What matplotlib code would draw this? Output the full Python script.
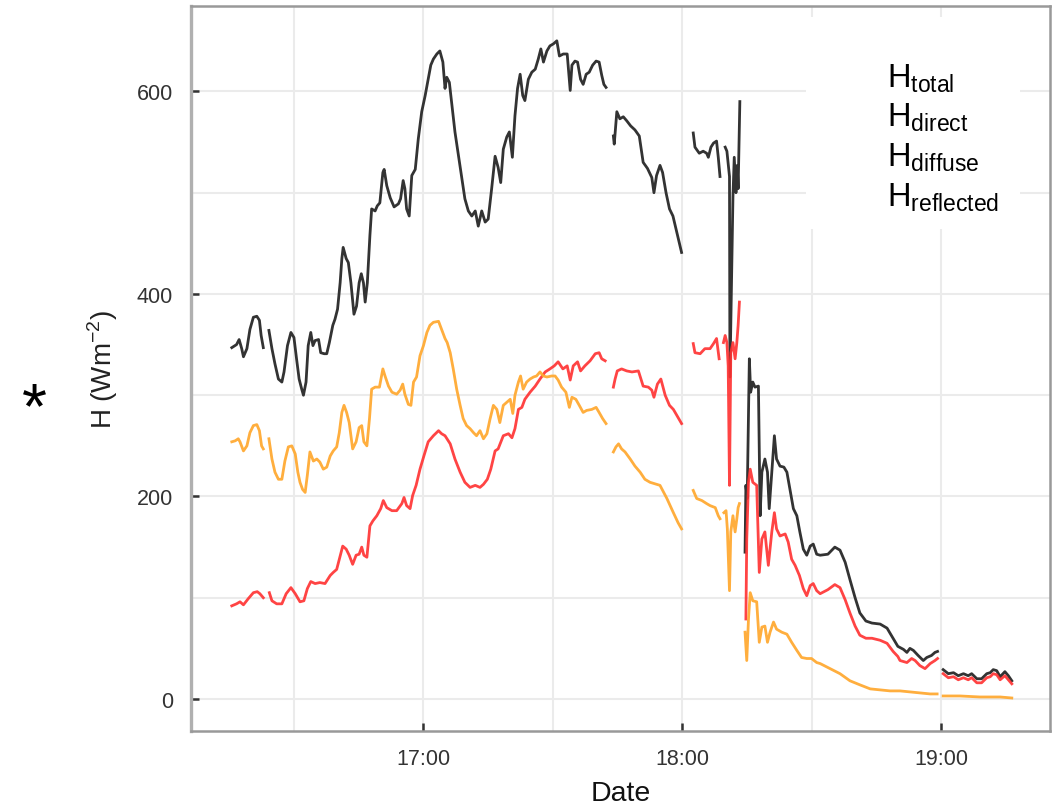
import numpy as np
import matplotlib
matplotlib.use('Agg')
import matplotlib.pyplot as plt
from matplotlib.patches import Rectangle
from matplotlib.ticker import FixedLocator, FixedFormatter

plt.rcParams['font.family'] = ['Liberation Sans', 'DejaVu Sans']
plt.rcParams['mathtext.fontset'] = 'custom'
plt.rcParams['mathtext.rm'] = 'Liberation Sans'

nan = np.nan

# time in minutes after 16:00, irradiance in W m^-2 (nan = data gap)
total_t = [15.7, 16.8, 17.4, 18.0, 18.4, 19.2, 19.9, 20.7, 21.5, 22.1, 22.5, 23.0, nan,
           24.3, 25.0, 25.7, 26.5, 27.3, 27.8, 28.6, 29.4, 30.1, 30.7, 31.3, 31.9, 32.3, 32.9, 33.4, 34.0, 34.5, 35.0,
           35.8, 36.3, 37.1, 37.7, 38.3, 39.1, 39.6, 40.2, 40.8, 41.2, 41.5, 42.2, 42.7, 43.3, 44.0, 44.6, 45.2, 45.7,
           46.2, 46.6, 47.1, 47.7, 48.1, 48.9, 49.4, 50.0, 50.7, 51.0, 51.6, 52.4, 53.3, 54.3, 54.8, 55.4, 55.8, 56.2,
           56.8, 57.4, 58.2, 58.9, 59.7, 60.5, 61.2, 61.8, 62.4, 63.2, 63.9, 64.6, 65.1, 65.5, 66.1, 66.7, 67.4, 68.2,
           69.0, 69.7, 70.5, 71.3, 72.1, 72.8, 73.6, 74.4, 75.1, 75.9, 76.7, 77.4, 78.0, 78.6, 79.4, 80.0, 80.7, 81.3,
           81.9, 82.5, 83.1, 83.6, 84.4, 85.2, 86.0, 86.7, 87.3, 87.9, 88.7, 89.4, 90.2, 91.0, 91.6, 92.5, 93.4, 94.1,
           94.5, 95.2, 95.8, 96.5, 97.1, 97.8, 98.5, 99.3, 100.1, 100.8, 101.4, 101.9, 102.4, nan,
           104.1, 104.3, 104.9, 105.6, 106.4, 107.2, 108.1, 109.1, 110.1, 111.0, 112.0, 113.0, 113.5, 114.1, 114.9,
           115.5, 116.3, 117.1, 117.9, 118.8, 119.9, nan,
           122.6, 123.0, 124.0, 124.9, 125.7, 126.1, 126.7, 127.3, 128.0, 128.4, 128.8, nan,
           130.0, 130.4, 131.0, 131.1, 131.8, 132.1, 132.5, 132.8, 133.0, 133.3, 133.4, nan,
           134.6, 134.8, 135.1, 135.6, 135.9, 136.4, 136.9, 137.7, 138.1, 138.5, 139.2, 139.8, 140.2, 140.8, 141.4,
           141.9, 142.7, 143.6, 144.3, 145.0, 145.8, 146.6, 147.3, 148.1, 148.9, 149.7, 150.4, 151.2, 152.0, 153.8,
           155.4, 156.6, 157.8, 158.9, 160.1, 161.2, 162.6, 164.0, 165.9, 167.5, 168.9, 170.0, 171.3, 172.1, 172.8,
           173.6, 174.7, 175.9, 176.7, 177.8, 178.6, 179.2, nan,
           180.5, 181.7, 182.9, 184.0, 185.2, 186.3, 187.1, 188.3, 189.4, 190.6, 191.4, 192.1, 192.9, 193.7, 194.8,
           195.6, 196.4]
total_h = [347, 350, 355, 346, 338, 346, 365, 377, 378, 374, 359, 347, nan,
           364, 346, 331, 316, 313, 323, 349, 362, 357, 336, 316, 306, 300, 313, 349, 362, 349, 354, 355, 342,
           341, 341, 352, 369, 375, 385, 411, 435, 446, 435, 431, 411, 380, 388, 411, 420, 411, 392, 411, 458,
           484, 482, 487, 490, 520, 523, 507, 495, 486, 489, 494, 512, 504, 484, 477, 517, 523, 553, 580, 596,
           612, 626, 632, 637, 640, 629, 603, 614, 609, 586, 560, 537, 514, 494, 482, 477, 482, 467, 482, 471,
           474, 504, 536, 525, 510, 543, 555, 560, 535, 576, 603, 617, 596, 591, 612, 619, 622, 632, 642, 629,
           640, 645, 647, 650, 635, 637, 637, 601, 626, 630, 629, 612, 607, 617, 619, 626, 630, 629, 616, 607,
           604, nan,
           556, 548, 580, 573, 575, 571, 566, 562, 556, 530, 524, 515, 500, 517, 527, 520, 500, 484, 477, 461, 441, nan,
           559, 545, 539, 541, 539, 535, 545, 549, 551, 535, 516, nan,
           545, 541, 516, 318, 496, 535, 500, 527, 504, 571, 590, nan,
           145, 211, 198, 336, 303, 313, 308, 309, 181, 224, 237, 224, 188, 224, 260, 237, 230, 229, 224, 207,
           188, 181, 165, 148, 142, 151, 153, 143, 142, 143, 150, 147, 135, 118, 100, 85, 77, 75, 74, 70,
           60, 52, 49, 46, 50, 48, 43, 38, 41, 43, 46, 47, nan,
           29, 25, 26, 23, 25, 23, 25, 20, 20, 25, 26, 29, 28, 22, 27, 23, 18]

direct_t = [15.7, 16.8, 17.6, 18.4, 19.5, 20.7, 21.6, 22.2, 23.0, nan,
            24.4, 25.0, 26.1, 27.3, 28.3, 29.4, 30.4, 31.5, 32.4, 33.2, 34.0, 35.0, 36.1, 37.3, 38.5, 39.2, 40.0,
            40.6, 41.4, 42.2, 42.9, 43.7, 44.5, 45.2, 45.8, 46.3, 47.0, 47.7, 48.4, 49.3, 50.2, 50.8, 51.6, 52.8,
            53.9, 55.1, 55.6, 56.2, 57.0, 57.6, 58.4, 59.3, 60.2, 61.2, 62.4, 63.6, 64.3, 65.1, 66.3, 67.4, 68.6,
            69.7, 70.9, 72.1, 73.2, 74.0, 74.9, 75.7, 76.7, 77.4, 78.6, 79.8, 80.6, 81.3, 82.1, 82.9, 83.6, 84.8,
            86.0, 87.1, 88.3, 89.4, 90.4, 91.3, 92.4, 93.4, 94.1, 94.8, 95.8, 96.5, 97.5, 98.7, 99.9, 100.8, 101.4,
            102.2, nan,
            104.1, 104.5, 105.0, 106.0, 107.2, 108.4, 109.9, 111.0, 112.2, 113.0, 113.5, 114.3, 115.1, 116.1, 117.1,
            118.0, 119.1, 119.9, nan,
            122.6, 123.0, 124.2, 125.3, 126.5, 127.3, 128.0, 128.6, nan,
            129.6, 130.0, 130.4, 130.7, 131.0, 131.3, 131.8, 132.3, 132.7, 133.0, 133.3, nan,
            134.8, 135.0, 135.4, 135.8, 136.4, 137.3, 137.9, 138.5, 139.2, 140.0, 140.8, 141.4, 141.9, 142.7, 143.9,
            144.6, 145.4, 146.2, 147.2, 148.1, 148.9, 149.7, 150.4, 151.2, 152.0, 153.8, 155.4, 156.6, 157.8, 158.9,
            160.1, 161.2, 162.6, 164.0, 165.9, 167.5, 168.9, 170.0, 170.5, 172.1, 173.2, 174.0, 175.1, 176.3, 177.5,
            178.6, 179.2, nan,
            180.5, 181.7, 182.9, 184.0, 185.2, 186.3, 187.1, 188.3, 189.4, 190.6, 191.4, 192.1, 192.9, 193.7, 194.8,
            195.6, 196.4]
direct_h = [92, 94, 96, 93, 99, 105, 106, 104, 100, nan,
            105, 97, 94, 94, 104, 110, 104, 96, 97, 109, 116, 114, 115, 114, 122, 125, 128, 138, 151, 148,
            142, 133, 142, 143, 150, 142, 140, 171, 176, 181, 188, 196, 189, 186, 186, 193, 199, 191, 188, 201,
            211, 227, 240, 254, 260, 265, 262, 260, 252, 237, 224, 214, 209, 211, 209, 212, 217, 227, 245, 247,
            260, 262, 258, 267, 286, 288, 296, 303, 309, 316, 323, 326, 329, 333, 326, 329, 315, 329, 333, 324,
            329, 334, 341, 342, 336, 334, nan,
            308, 316, 324, 326, 324, 323, 324, 309, 308, 305, 298, 311, 316, 300, 290, 286, 278, 272, nan,
            351, 342, 341, 346, 346, 351, 356, 336, nan,
            352, 359, 352, 329, 211, 342, 352, 336, 352, 369, 392, nan,
            79, 158, 214, 227, 214, 211, 125, 158, 165, 132, 165, 184, 168, 161, 163, 155, 138, 132, 122, 109,
            102, 112, 114, 107, 104, 108, 113, 110, 98, 85, 72, 63, 60, 60, 58, 55, 47, 42, 38, 36,
            40, 38, 33, 30, 35, 38, 40, nan,
            25, 21, 22, 19, 21, 19, 21, 16, 16, 21, 22, 25, 24, 19, 23, 19, 15]

diffuse_t = [15.7, 16.5, 17.2, 17.6, 18.4, 19.2, 19.9, 20.7, 21.5, 22.1, 22.6, 23.0, nan,
             24.3, 25.0, 25.7, 26.5, 27.3, 28.0, 28.8, 29.6, 30.4, 31.0, 31.5, 32.1, 32.7, 33.2, 33.8, 34.6, 35.4,
             36.1, 36.9, 37.7, 38.5, 39.2, 40.0, 40.6, 41.2, 41.7, 42.3, 42.9, 43.7, 44.5, 45.2, 45.8, 46.3, 47.0,
             47.6, 48.1, 48.9, 49.9, 50.7, 51.2, 52.0, 52.8, 53.9, 54.7, 55.3, 55.8, 56.6, 57.2, 57.8, 58.5, 59.3,
             60.1, 60.9, 61.6, 62.4, 63.6, 64.3, 65.1, 65.6, 66.3, 67.0, 67.8, 68.6, 69.3, 70.1, 70.9, 71.7, 72.4,
             73.2, 74.0, 74.8, 75.5, 76.3, 77.1, 77.8, 78.6, 79.4, 80.2, 80.8, 81.3, 82.1, 82.6, 83.2, 84.0, 84.8,
             85.6, 86.3, 87.1, 87.9, 88.7, 89.8, 90.6, 91.3, 92.1, 93.1, 93.9, 94.5, 95.4, 96.2, 97.1, 97.9, 99.1,
             100.1, 100.8, 101.6, 102.4, nan,
             104.1, 104.7, 105.3, 106.0, 106.8, 108.0, 109.1, 110.3, 111.4, 112.6, 114.9, 116.5, 118.0, 119.1,
             119.9, nan,
             122.6, 123.4, 124.6, 125.7, 126.5, 127.7, 128.4, 128.8, nan,
             129.7, 130.2, 130.5, 131.0, 131.3, 131.8, 132.3, 132.7, 133.0, 133.3, nan,
             134.6, 135.0, 135.4, 135.8, 136.4, 137.3, 137.9, 138.5, 139.2, 139.8, 140.4, 141.2, 141.9, 143.1,
             144.3, 145.4, 146.6, 147.7, 148.9, 150.0, 151.2, 152.0, 154.3, 156.6, 158.9, 161.2, 163.6, 165.9,
             168.2, 170.5, 172.8, 175.1, 177.5, 179.1, nan,
             180.5, 184.4, 189.0, 193.7, 196.4]
diffuse_h = [254, 255, 257, 254, 245, 250, 263, 270, 271, 265, 250, 247, nan,
             257, 237, 224, 217, 217, 235, 249, 250, 242, 224, 214, 207, 204, 221, 244, 235, 237, 234, 227, 229,
             240, 245, 249, 263, 283, 290, 283, 273, 247, 254, 268, 270, 254, 250, 277, 306, 308, 308, 326, 319,
             309, 303, 301, 305, 311, 301, 291, 290, 313, 318, 339, 349, 362, 369, 372, 373, 365, 356, 352, 342,
             326, 306, 290, 277, 270, 267, 263, 260, 265, 257, 262, 276, 290, 286, 273, 290, 293, 296, 282, 300,
             313, 319, 306, 313, 316, 318, 319, 323, 319, 318, 319, 319, 315, 308, 303, 288, 298, 296, 290, 283,
             285, 286, 288, 283, 277, 272, nan,
             244, 249, 252, 247, 244, 237, 230, 224, 217, 214, 211, 198, 184, 174, 168, nan,
             206, 198, 196, 193, 191, 189, 181, 178, nan,
             184, 186, 168, 107, 165, 181, 165, 178, 189, 193, nan,
             66, 38, 79, 105, 97, 96, 56, 71, 72, 56, 66, 76, 69, 66, 64, 56, 48, 41, 40, 40,
             36, 35, 30, 25, 18, 14, 10, 9, 8, 8, 7, 6, 5, 5, nan,
             3, 3, 2, 2, 1]

legend_labels = [r'H$_{\mathregular{total}}$', r'H$_{\mathregular{direct}}$',
                 r'H$_{\mathregular{diffuse}}$', r'H$_{\mathregular{reflected}}$']
x_ticks = [60, 120, 180]
x_tick_labels = ['17:00', '18:00', '19:00']
x_minor = [30, 90, 150]
y_ticks = [0, 200, 400, 600]
y_minor = [100, 300, 500]

for a, b in [(total_t, total_h), (direct_t, direct_h), (diffuse_t, diffuse_h)]:
    assert len(a) == len(b), (len(a), len(b))

fig = plt.figure(figsize=(10.56, 8.12), dpi=100)
ax = fig.add_axes([191 / 1056, 1 - 732 / 812, 859 / 1056, 725 / 812])

ax.plot(total_t, total_h, color='#333333', lw=2.0, zorder=3, solid_joinstyle='round')
ax.plot(direct_t, direct_h, color='#FF3030', lw=2.0, alpha=0.9, zorder=4, solid_joinstyle='round')
ax.plot(diffuse_t, diffuse_h, color='#FFAA33', lw=2.0, alpha=0.95, zorder=5, solid_joinstyle='round')

ax.set_xlim(6.25, 205.25)
ax.set_ylim(-31.6, 684.4)

ax.xaxis.set_major_locator(FixedLocator(x_ticks))
ax.xaxis.set_major_formatter(FixedFormatter(x_tick_labels))
ax.xaxis.set_minor_locator(FixedLocator(x_minor))
ax.yaxis.set_major_locator(FixedLocator(y_ticks))
ax.yaxis.set_minor_locator(FixedLocator(y_minor))

ax.set_axisbelow(True)
ax.grid(True, which='both', color='#EBEBEB', lw=1.5)
ax.tick_params(which='major', direction='in', length=6, width=1.8, color='#333333',
               labelsize=15.5, labelcolor='#333333')
ax.tick_params(axis='x', which='major', pad=12)
ax.tick_params(axis='y', which='major', pad=13)
ax.tick_params(which='minor', length=0)

for side, sp in ax.spines.items():
    sp.set_color('#999999')
    sp.set_linewidth(1.8)
ax.spines['left'].set_color('#B0B0B0')
ax.spines['left'].set_linewidth(2.4)

ax.set_xlabel('Date', fontsize=20.5, color='#111111')
ax.xaxis.set_label_coords(0.5, -0.068)
ax.set_ylabel(r'H (Wm$^{-2}$)', fontsize=20, color='#222222')
ax.yaxis.set_label_coords(-0.083, 0.5)

# legend box (text-only keys)
ax.add_patch(Rectangle((0.716, 0.692), 0.249, 0.293, transform=ax.transAxes,
                       facecolor='white', edgecolor='none', zorder=1.5))
baselines = [0.8897, 0.8359, 0.7807, 0.7255]
for lab, yb in zip(legend_labels, baselines):
    ax.text(0.8102, yb, lab, transform=ax.transAxes, fontsize=23.5, va='baseline',
            ha='left', color='black', zorder=6)

fig.text(34 / 1056, 1 - 428 / 812, '*', fontsize=46, ha='center', va='baseline', color='black')

fig.savefig('out.png', dpi=100)
